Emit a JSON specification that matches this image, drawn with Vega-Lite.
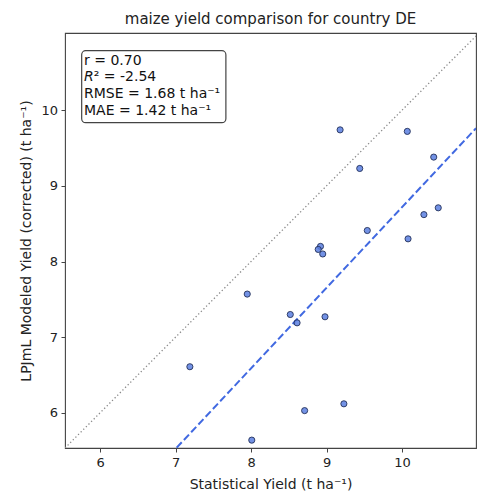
{
  "$schema": "https://vega.github.io/schema/vega-lite/v6.json",
  "width": 411,
  "height": 415,
  "autosize": {"type": "none"},
  "padding": {"left": 65, "top": 33, "right": 5, "bottom": 47},
  "background": "white",
  "title": {
    "text": "maize yield comparison for country DE",
    "font": "DejaVu Sans",
    "fontSize": 15,
    "fontWeight": "normal",
    "color": "#222222",
    "offset": 6,
    "anchor": "middle"
  },
  "config": {
    "view": {"stroke": "#444444", "strokeWidth": 1.1},
    "font": "DejaVu Sans",
    "axis": {
      "domain": false,
      "grid": false,
      "format": "d",
      "tickColor": "#444444",
      "tickSize": 4,
      "labelFont": "DejaVu Sans",
      "labelFontSize": 13,
      "labelColor": "#222222",
      "titleFont": "DejaVu Sans",
      "titleFontSize": 14,
      "titleFontWeight": "normal",
      "titleColor": "#222222"
    }
  },
  "datasets": {
    "points": [
      {"stat": 9.18, "model": 9.74},
      {"stat": 10.07, "model": 9.72},
      {"stat": 10.42, "model": 9.38},
      {"stat": 9.44, "model": 9.23},
      {"stat": 10.48, "model": 8.71},
      {"stat": 10.29, "model": 8.62},
      {"stat": 9.54, "model": 8.41},
      {"stat": 10.08, "model": 8.30},
      {"stat": 8.92, "model": 8.20},
      {"stat": 8.89, "model": 8.16},
      {"stat": 8.95, "model": 8.10},
      {"stat": 7.95, "model": 7.57},
      {"stat": 8.52, "model": 7.30},
      {"stat": 8.61, "model": 7.19},
      {"stat": 8.98, "model": 7.27},
      {"stat": 7.19, "model": 6.61},
      {"stat": 8.71, "model": 6.03},
      {"stat": 9.23, "model": 6.12},
      {"stat": 8.01, "model": 5.64}
    ],
    "oneToOne": [
      {"stat": 5.536, "model": 5.536},
      {"stat": 11.02, "model": 11.02}
    ],
    "fit": [
      {"stat": 7.015, "model": 5.54},
      {"stat": 10.98, "model": 9.761}
    ]
  },
  "layer": [
    {
      "data": {"name": "oneToOne"},
      "mark": {"type": "line", "clip": true, "color": "#8a8a8a", "strokeWidth": 1.3, "strokeDash": [1.3, 2.4]},
      "encoding": {
        "x": {"field": "stat", "type": "quantitative",
          "scale": {"domain": [5.536, 10.98], "nice": false, "zero": false},
          "axis": {"values": [6, 7, 8, 9, 10], "format": "d", "title": "Statistical Yield (t ha⁻¹)", "labelPadding": 4.5, "titlePadding": 8}},
        "y": {"field": "model", "type": "quantitative",
          "scale": {"domain": [5.536, 11.02], "nice": false, "zero": false},
          "axis": {"values": [6, 7, 8, 9, 10], "format": "d", "title": "LPJmL Modeled Yield (corrected) (t ha⁻¹)", "labelPadding": 3.5, "titlePadding": 7}}
      }
    },
    {
      "data": {"name": "fit"},
      "mark": {"type": "line", "clip": true, "color": "#4169E1", "strokeWidth": 2, "strokeDash": [7.4, 3.2]},
      "encoding": {
        "x": {"field": "stat", "type": "quantitative"},
        "y": {"field": "model", "type": "quantitative"}
      }
    },
    {
      "data": {"name": "points"},
      "mark": {"type": "point", "shape": "circle", "filled": true, "size": 38, "fill": "#5a7fe0", "fillOpacity": 0.85, "stroke": "#1d2a52", "strokeWidth": 1, "strokeOpacity": 0.85, "opacity": 1},
      "encoding": {
        "x": {"field": "stat", "type": "quantitative"},
        "y": {"field": "model", "type": "quantitative"}
      }
    },
    {
      "data": {"values": [{}]},
      "mark": {"type": "rect", "fill": "white", "stroke": "#444444", "strokeWidth": 1.2, "cornerRadius": 4},
      "encoding": {
        "x": {"datum": 5.757, "type": "quantitative"},
        "x2": {"datum": 7.667},
        "y": {"datum": 10.786, "type": "quantitative"},
        "y2": {"datum": 9.835}
      }
    },
    {
      "data": {"values": [{}]},
      "mark": {"type": "text", "align": "left", "baseline": "middle", "font": "DejaVu Sans", "fontSize": 14, "color": "#111111", "text": "r = 0.70"},
      "encoding": {
        "x": {"datum": 5.788, "type": "quantitative"},
        "y": {"datum": 10.653, "type": "quantitative"}
      }
    },
    {
      "data": {"values": [{}]},
      "mark": {"type": "text", "align": "left", "baseline": "middle", "font": "DejaVu Sans", "fontSize": 14, "fontStyle": "italic", "color": "#111111", "text": "R", "dy": 16.7},
      "encoding": {
        "x": {"datum": 5.788, "type": "quantitative"},
        "y": {"datum": 10.653, "type": "quantitative"}
      }
    },
    {
      "data": {"values": [{}]},
      "mark": {"type": "text", "align": "left", "baseline": "middle", "font": "DejaVu Sans", "fontSize": 14, "color": "#111111", "text": "² = -2.54", "dy": 16.7, "dx": 9.7},
      "encoding": {
        "x": {"datum": 5.788, "type": "quantitative"},
        "y": {"datum": 10.653, "type": "quantitative"}
      }
    },
    {
      "data": {"values": [{}]},
      "mark": {"type": "text", "align": "left", "baseline": "middle", "font": "DejaVu Sans", "fontSize": 14, "color": "#111111", "text": "RMSE = 1.68 t ha⁻¹", "dy": 33.4},
      "encoding": {
        "x": {"datum": 5.788, "type": "quantitative"},
        "y": {"datum": 10.653, "type": "quantitative"}
      }
    },
    {
      "data": {"values": [{}]},
      "mark": {"type": "text", "align": "left", "baseline": "middle", "font": "DejaVu Sans", "fontSize": 14, "color": "#111111", "text": "MAE = 1.42 t ha⁻¹", "dy": 50.1},
      "encoding": {
        "x": {"datum": 5.788, "type": "quantitative"},
        "y": {"datum": 10.653, "type": "quantitative"}
      }
    }
  ]
}
